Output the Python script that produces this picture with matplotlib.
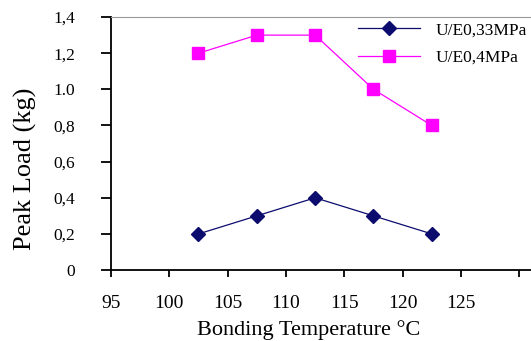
import matplotlib
matplotlib.use("Agg")
import matplotlib.pyplot as plt

plt.rcParams['font.family'] = ['Liberation Serif', 'DejaVu Serif']

# data
temp = [102.5, 107.5, 112.5, 117.5, 122.5]
load_033 = [0.2, 0.3, 0.4, 0.3, 0.2]
load_04 = [1.2, 1.3, 1.3, 1.0, 0.8]
xticks = [95, 100, 105, 110, 115, 120, 125, 130]
xtick_labels = ['95', '100', '105', '110', '115', '120', '125', '']
yticks = [0, 0.2, 0.4, 0.6, 0.8, 1.0, 1.2, 1.4]
ytick_labels = ['0', '0,2', '0,4', '0,6', '0,8', '1.0', '1,2', '1,4']

fig = plt.figure(figsize=(5.31, 3.41), dpi=100)
ax = fig.add_axes([0.209, 0.208, 0.791, 0.742])

ax.plot(temp, load_033, color='#0c0c6e', marker='D', markersize=7, linewidth=0.9, label='U/E0,33MPa')
ax.plot(temp, load_04, color='#ff00ff', marker='s', markersize=8.5, linewidth=0.9, label='U/E0,4MPa')

ax.set_xlim(95, 131)
ax.set_ylim(0, 1.4)
ax.set_xticks(xticks)
ax.set_xticklabels(xtick_labels, fontsize=14)
ax.set_yticks(yticks)
ax.set_yticklabels(ytick_labels, fontsize=12.5)

ax.spines['right'].set_visible(False)
ax.spines['top'].set_color('#999999')
ax.spines['left'].set_linewidth(1.3)
ax.spines['bottom'].set_linewidth(1.3)
ax.tick_params(axis='y', direction='out', length=7, width=1.3, pad=19)
ax.tick_params(axis='x', direction='out', length=5, width=1.3, pad=13)

ax.set_xlabel('Bonding Temperature °C', fontsize=16)
ax.xaxis.set_label_coords(0.471, -0.198)
ax.set_ylabel('Peak Load (kg)', fontsize=19)
ax.yaxis.set_label_coords(-0.176, 0.40)

ax.legend(loc='upper left', frameon=False, fontsize=12.5, handlelength=3.6,
          handletextpad=0.9, borderpad=0, borderaxespad=0, labelspacing=0.65,
          bbox_to_anchor=(0.674, 0.935), bbox_transform=fig.transFigure)

plt.savefig('out.png', dpi=100)
